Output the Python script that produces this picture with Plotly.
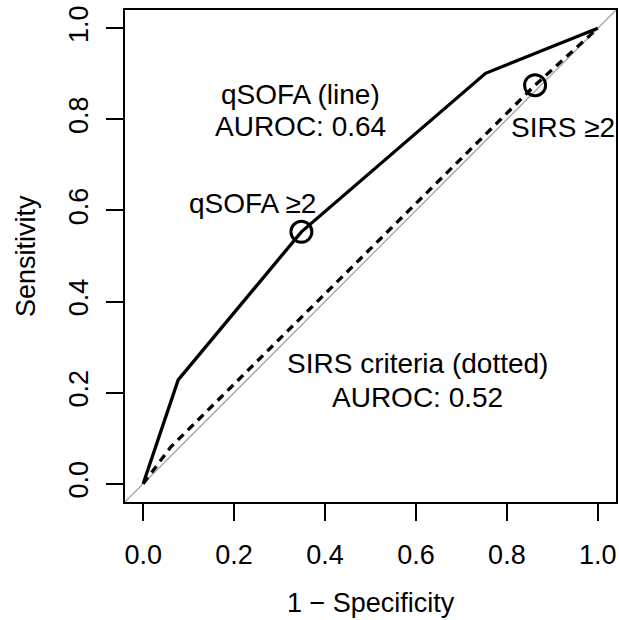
import plotly.graph_objects as go

# ROC points
qsofa_fpr = [0.0, 0.077, 0.348, 0.753, 1.0]
qsofa_tpr = [0.0, 0.228, 0.553, 0.901, 1.0]
sirs_fpr = [0.0, 0.06, 0.862, 1.0]
sirs_tpr = [0.0, 0.08, 0.875, 1.0]

# cut-off points (>=2)
cut_fpr = [0.348, 0.862]
cut_tpr = [0.553, 0.875]

# text labels
label_text = ["qSOFA (line)", "AUROC: 0.64", "qSOFA \u22652", "SIRS \u22652",
              "SIRS criteria (dotted)", "AUROC: 0.52"]
label_x = [0.346, 0.346, 0.241, 0.923, 0.604, 0.604]
label_y = [0.855, 0.785, 0.616, 0.781, 0.263, 0.189]

tick_vals = [0.0, 0.2, 0.4, 0.6, 0.8, 1.0]
tick_text = ["0.0", "0.2", "0.4", "0.6", "0.8", "1.0"]
axis_range = [-0.04, 1.04]

FONT = "Liberation Sans, Arial, Helvetica, sans-serif"

fig = go.Figure()

# reference diagonal (abline 0,1)
fig.add_trace(go.Scatter(
    x=axis_range, y=axis_range, mode="lines",
    line=dict(color="#a6a6a6", width=1.3), hoverinfo="skip"
))

# SIRS curve (dashed)
fig.add_trace(go.Scatter(
    x=sirs_fpr, y=sirs_tpr, mode="lines",
    line=dict(color="black", width=3.3, dash="8px,6px")
))

# qSOFA curve
fig.add_trace(go.Scatter(
    x=qsofa_fpr, y=qsofa_tpr, mode="lines",
    line=dict(color="black", width=3.3)
))

# cut-off circles
fig.add_trace(go.Scatter(
    x=cut_fpr, y=cut_tpr, mode="markers",
    marker=dict(symbol="circle-open", size=21, color="black",
                line=dict(color="black", width=3))
))

for t, x, y in zip(label_text, label_x, label_y):
    fig.add_annotation(x=x, y=y, text=t, showarrow=False,
                       font=dict(size=28, color="black", family=FONT))

# axis titles
fig.add_annotation(text="1 \u2212 Specificity", xref="paper", yref="paper",
                   x=0.5, y=0, yanchor="middle", yshift=-101, showarrow=False,
                   font=dict(size=27, color="black", family=FONT))
fig.add_annotation(text="Sensitivity", xref="paper", yref="paper",
                   x=0, y=0.5, xanchor="center", xshift=-99, textangle=-90,
                   showarrow=False,
                   font=dict(size=27, color="black", family=FONT))

axis_style = dict(
    range=axis_range, tickvals=tick_vals, ticktext=tick_text,
    showgrid=False, zeroline=False,
    showline=True, mirror=True, linecolor="black", linewidth=2,
    ticks="outside", ticklen=17, tickwidth=1.5, tickcolor="black",
    tickfont=dict(size=27, color="black", family=FONT),
    ticklabeloverflow="allow",
)

fig.update_layout(
    width=619, height=620,
    margin=dict(l=125, r=1, t=10, b=118),
    plot_bgcolor="white", paper_bgcolor="white",
    showlegend=False,
    xaxis=dict(axis_style, ticklabelstandoff=11),
    yaxis=dict(axis_style, tickangle=-90, ticklabelstandoff=7),
)

# drop the default 8px page margin so the figure fills the window
fig.write_html(
    "out.html",
    config={"displayModeBar": False},
    post_script="document.body.style.margin='0';document.body.style.overflow='hidden';",
)
